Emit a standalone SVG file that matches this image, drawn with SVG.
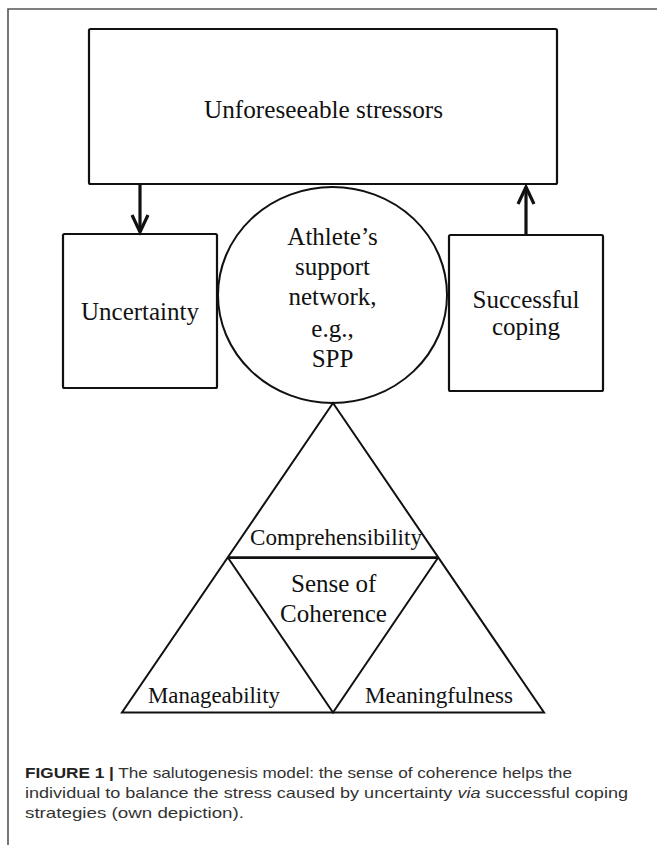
<svg xmlns="http://www.w3.org/2000/svg" width="657" height="845" viewBox="0 0 657 845">
<style>
.box{fill:#fff;stroke:#111;stroke-width:2.2}
.ln{fill:none;stroke:#111;stroke-width:2}
.arr{fill:none;stroke:#111;stroke-width:3.2}
.t{font-family:"Liberation Serif","Times New Roman",serif;fill:#111;text-anchor:middle}
.cap{font-family:"Liberation Sans",Arial,sans-serif;font-size:15px;fill:#333}
</style>
<rect width="657" height="845" fill="#fff"/>
<path d="M8,845 V9 H657" fill="none" stroke="#555" stroke-width="1.6"/>
<g id="stressors">
<rect class="box" x="89" y="29" width="468" height="155" rx="1.5"/>
<text class="t" x="323.5" y="118" font-size="26" textLength="239" lengthAdjust="spacingAndGlyphs">Unforeseeable stressors</text>
</g>
<g id="uncertainty">
<rect class="box" x="63" y="234" width="154" height="154" rx="1.5"/>
<text class="t" x="140" y="320" font-size="25">Uncertainty</text>
</g>
<g id="coping">
<rect class="box" x="449" y="235" width="154" height="156" rx="1.5"/>
<text class="t" x="526" y="308" font-size="25">Successful</text>
<text class="t" x="526" y="335" font-size="25">coping</text>
</g>
<g id="support">
<ellipse class="ln" cx="332.5" cy="295" rx="114.5" ry="108" fill="#fff"/>
<text class="t" x="332.5" y="245" font-size="25">Athlete’s</text>
<text class="t" x="332.5" y="275" font-size="25">support</text>
<text class="t" x="332.5" y="305" font-size="25">network,</text>
<text class="t" x="332.5" y="337" font-size="25">e.g.,</text>
<text class="t" x="332.5" y="367" font-size="25">SPP</text>
</g>
<g id="coherence">
<polygon class="ln" points="333,403 544,712.5 122,712.5"/>
<line x1="228" y1="557.7" x2="438" y2="557.7" stroke="#111" stroke-width="2.8"/>
<polyline class="ln" points="228,557.7 333,712.5 438,557.7"/>
<text class="t" x="336" y="545" font-size="23" textLength="172" lengthAdjust="spacingAndGlyphs">Comprehensibility</text>
<text class="t" x="333.7" y="591.7" font-size="25">Sense of</text>
<text class="t" x="333.5" y="621.7" font-size="25">Coherence</text>
<text class="t" x="214" y="703" font-size="22.5" textLength="132" lengthAdjust="spacingAndGlyphs">Manageability</text>
<text class="t" x="439" y="703" font-size="22.5" textLength="148" lengthAdjust="spacingAndGlyphs">Meaningfulness</text>
</g>
<g id="connectors">
<line class="arr" x1="140" y1="184" x2="140" y2="232"/>
<polyline class="arr" points="132,215 140,232 148,215"/>
<line class="arr" x1="526" y1="235" x2="526" y2="187"/>
<polyline class="arr" points="518,204 526,187 534,204"/>
</g>
<g id="caption">
<text class="cap" x="25" y="778" textLength="547" lengthAdjust="spacingAndGlyphs"><tspan font-weight="bold" fill="#222">FIGURE 1 |</tspan> The salutogenesis model: the sense of coherence helps the</text>
<text class="cap" x="25" y="798" textLength="603" lengthAdjust="spacingAndGlyphs">individual to balance the stress caused by uncertainty <tspan font-style="italic">via</tspan> successful coping</text>
<text class="cap" x="25" y="818" textLength="219" lengthAdjust="spacingAndGlyphs">strategies (own depiction).</text>
</g>
</svg>
